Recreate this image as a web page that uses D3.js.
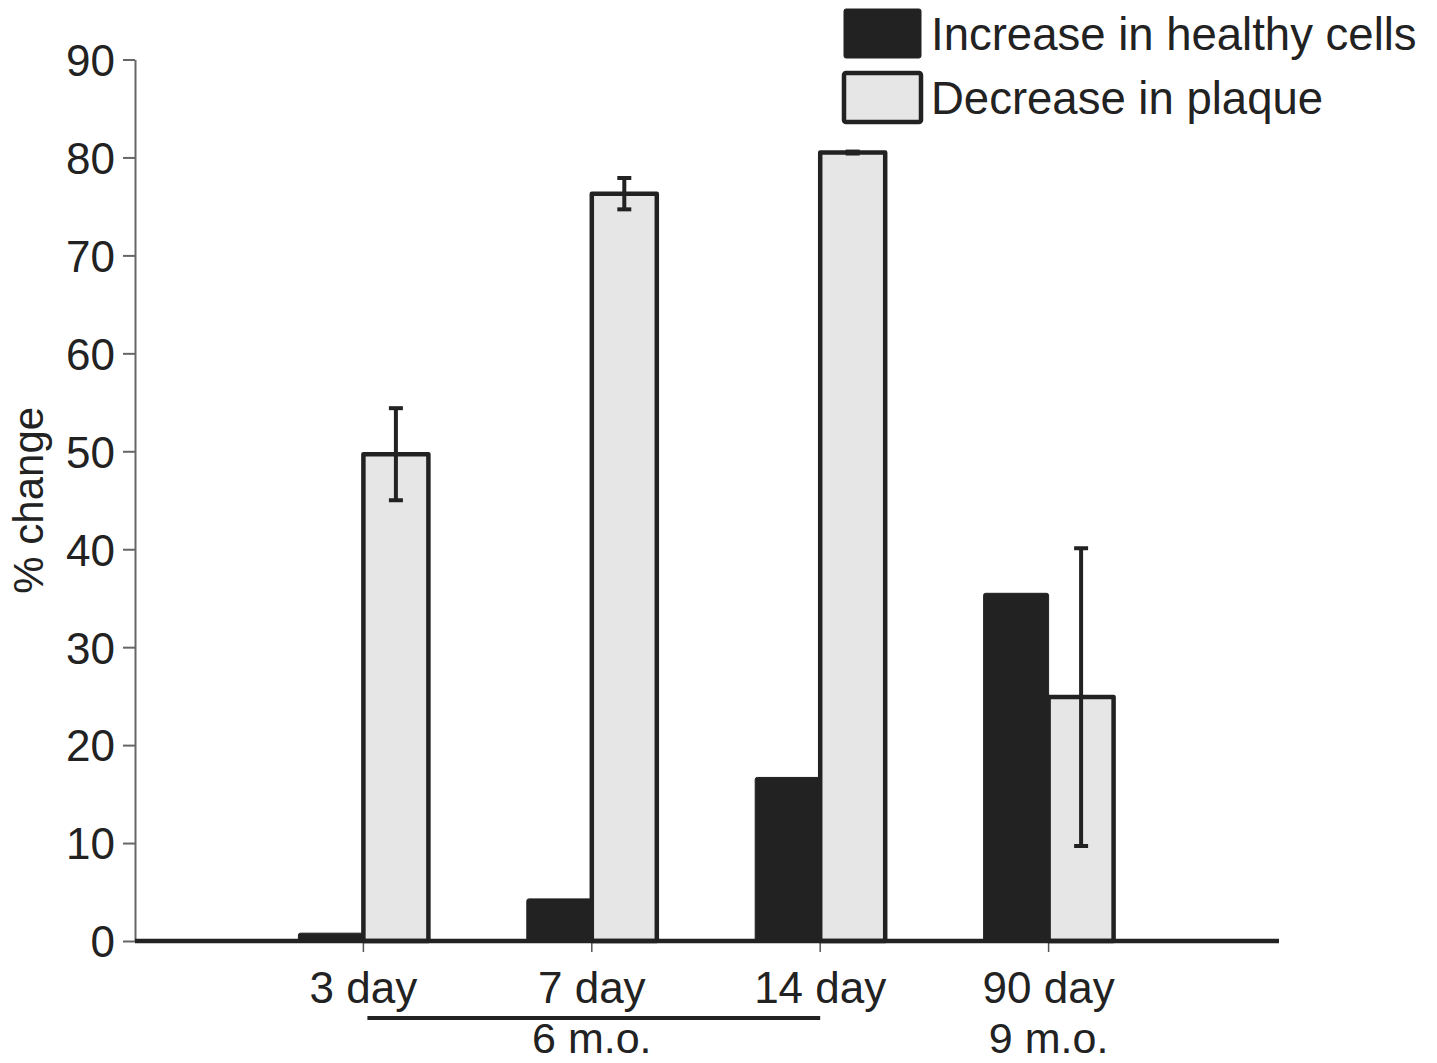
<!DOCTYPE html>
<html>
<head>
<meta charset="utf-8">
<script src="https://cdn.jsdelivr.net/npm/d3@7"></script>
<style>
  html, body { margin: 0; padding: 0; background: #fff; }
  svg { display: block; }
  text { font-family: "Liberation Sans", Arial, Helvetica, sans-serif; fill: #222; }
</style>
</head>
<body>
<script>
// Time points after treatment and the age group they belong to
const categories = ["3 day", "7 day", "14 day", "90 day"];
const groups = [
  { label: "6 m.o.", from: "3 day", to: "14 day" },
  { label: "9 m.o.", from: "90 day", to: "90 day" }
];
// % change per time point
const healthyCells = [0.8, 4.3, 16.7, 35.5];
const plaqueDecrease = [49.7, 76.3, 80.5, 24.9];
const plaqueError = [4.7, 1.6, 0.1, 15.2];
const yTicks = [0, 10, 20, 30, 40, 50, 60, 70, 80, 90];
const seriesNames = ["Increase in healthy cells", "Decrease in plaque"];

const W = 1437, H = 1063;
const margin = { left: 135, right: 160, top: 59.5, bottom: 122 };
const dark = "#222", light = "#e6e6e6";

const svg = d3.select("body").append("svg").attr("width", W).attr("height", H);

const x = d3.scalePoint().domain(categories).range([margin.left, W - margin.right]).padding(1);
const y = d3.scaleLinear().domain([0, 90]).range([H - margin.bottom, margin.top]);
const barW = 65;

// y axis
const yAxis = svg.append("g").attr("transform", `translate(${margin.left},0)`)
  .call(d3.axisLeft(y).tickValues(yTicks).tickSize(12).tickPadding(8).tickSizeOuter(0));
yAxis.select(".domain").attr("stroke", "#666").attr("stroke-width", 2);
yAxis.selectAll(".tick line").attr("stroke", "#666").attr("stroke-width", 2);
yAxis.selectAll(".tick text").attr("font-size", 44).attr("fill", "#222").attr("dy", "0.36em")
  .style("font-family", "'Liberation Sans', Arial, sans-serif");

// category ticks below the baseline
svg.append("g").selectAll("line").data(categories).join("line")
  .attr("x1", d => x(d)).attr("x2", d => x(d))
  .attr("y1", y(0)).attr("y2", y(0) + 11)
  .attr("stroke", "#555").attr("stroke-width", 1.5);

// dark bars: increase in healthy cells
svg.append("g").selectAll("rect").data(categories).join("rect")
  .attr("x", d => x(d) - barW)
  .attr("y", (d, i) => y(healthyCells[i]))
  .attr("width", barW)
  .attr("height", (d, i) => y(0) - y(healthyCells[i]))
  .attr("fill", dark).attr("stroke", dark).attr("stroke-width", 1).attr("rx", 2);

// light bars: decrease in plaque
svg.append("g").selectAll("rect").data(categories).join("rect")
  .attr("x", d => x(d))
  .attr("y", (d, i) => y(plaqueDecrease[i]))
  .attr("width", barW)
  .attr("height", (d, i) => y(0) - y(plaqueDecrease[i]))
  .attr("fill", light).attr("stroke", dark).attr("stroke-width", 4.5)
  .attr("stroke-linejoin", "round");

// error bars on the plaque series
const eb = svg.append("g").attr("stroke", dark).attr("stroke-width", 4);
categories.forEach((c, i) => {
  const cx = x(c) + barW / 2;
  const hi = y(plaqueDecrease[i] + plaqueError[i]);
  const lo = y(plaqueDecrease[i] - plaqueError[i]);
  eb.append("line").attr("x1", cx).attr("x2", cx).attr("y1", hi).attr("y2", lo);
  eb.append("line").attr("x1", cx - 7).attr("x2", cx + 7).attr("y1", hi).attr("y2", hi);
  eb.append("line").attr("x1", cx - 7).attr("x2", cx + 7).attr("y1", lo).attr("y2", lo);
});

// x baseline
svg.append("line")
  .attr("x1", margin.left).attr("x2", W - margin.right + 2)
  .attr("y1", y(0)).attr("y2", y(0))
  .attr("stroke", dark).attr("stroke-width", 4.5);

// category labels
svg.append("g").selectAll("text").data(categories).join("text")
  .attr("x", d => x(d)).attr("y", 1003)
  .attr("text-anchor", "middle").attr("font-size", 44)
  .text(d => d);

// age groups
groups.forEach(g => {
  const x0 = x(g.from), x1 = x(g.to);
  if (g.from !== g.to) {
    svg.append("line").attr("x1", x0 + 4).attr("x2", x1)
      .attr("y1", 1018).attr("y2", 1018)
      .attr("stroke", dark).attr("stroke-width", 4);
  }
  svg.append("text").attr("x", (x0 + x1) / 2).attr("y", 1053)
    .attr("text-anchor", "middle").attr("font-size", 43).text(g.label);
});

// y label
svg.append("text")
  .attr("transform", `translate(43,${y(45)}) rotate(-90)`)
  .attr("text-anchor", "middle").attr("font-size", 42)
  .text("% change");

// legend
const legend = svg.append("g");
const fills = [dark, light];
seriesNames.forEach((name, i) => {
  const top = i === 0 ? 9 : 73;
  legend.append("rect")
    .attr("x", 844).attr("y", top).attr("width", 77).attr("height", 49)
    .attr("rx", 2)
    .attr("fill", fills[i]).attr("stroke", dark).attr("stroke-width", i === 0 ? 1 : 4.5);
  legend.append("text").attr("x", 931).attr("y", top + 41)
    .attr("font-size", 45.5).text(name);
});
</script>
</body>
</html>
